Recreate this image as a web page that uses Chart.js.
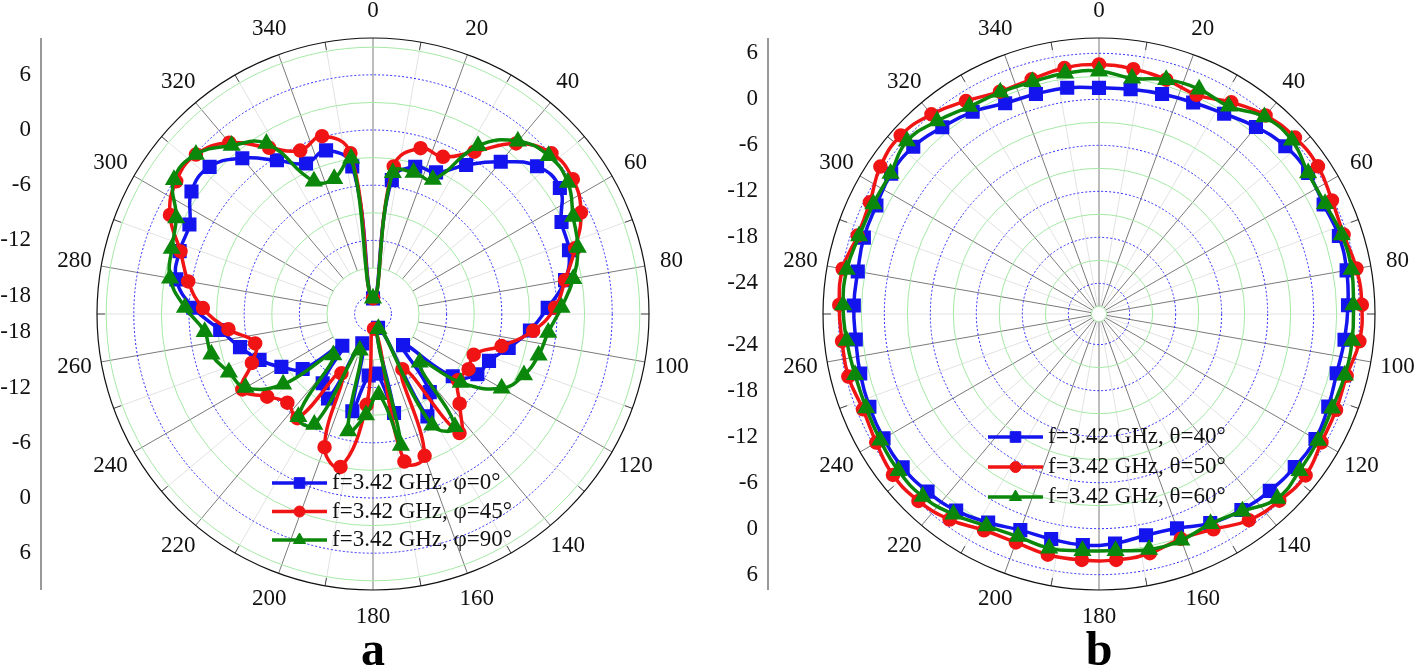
<!DOCTYPE html>
<html>
<head>
<meta charset="utf-8">
<title>Radiation patterns</title>
<script src="https://cdn.jsdelivr.net/npm/chart.js@4.4.1/dist/chart.umd.min.js"></script>
<style>
  html, body { margin: 0; padding: 0; background: #fff; }
  #wrap { position: relative; width: 1416px; height: 669px; overflow: hidden; }
  canvas { position: absolute; top: 0; }
</style>
</head>
<body>
<div id="wrap">
  <canvas id="chartA" width="708" height="669" style="left:0"></canvas>
  <canvas id="chartB" width="708" height="669" style="left:708px"></canvas>
</div>
<script>
// angles of the measured points (deg), one every 8 degrees
const angles = [0, 8, 16, 24, 32, 40, 48, 56, 64, 72, 80, 88, 96, 104, 112, 120, 128, 136, 144, 152, 160, 168, 176,
  184, 192, 200, 208, 216, 224, 232, 240, 248, 256, 264, 272, 280, 288, 296, 304, 312, 320, 328, 336, 344, 352];

// panel a: gain (dB) at f=3.42 GHz
const phi0 = [-18.3, -5.3, -3.35, -3.15, -0.9, 1.6, 4.0, 4.5, 2.8, 2.4, 1.2, -1.0, -2.85, -4.8, -6.4, -6.9, -9.0, -15.3, -9.5, -7.4, -18.4, -9.0, -13.5,
  -13.3, -9.2, -16.6, -9.6, -10.7, -15.2, -10.3, -8.5, -6.7, -5.1, -3.3, -0.45, 1.7, 2.1, 2.2, 3.8, 3.9, 2.1, -0.3, -2.1, -1.5, -3.8];
const phi45 = [-18.3, -3.8, -1.25, -1.3, 0.8, 4.2, 6.1, 6.2, 5.15, 3.1, 1.2, -0.2, -2.5, -5.6, -8.2, -8.0, -8.3, -6.45, -4.0, -13.2, -3.6, -3.6, -18.4,
  -10.1, -3.0, -4.6, -12.7, -6.0, -6.6, -5.4, -3.6, -5.8, -6.8, -4.2, -1.5, 0.4, 2.0, 4.55, 5.8, 5.9, 4.3, 1.3, -0.55, 0.1, -2.35];
const phi90 = [-18.3, -4.5, -4.0, -4.0, 1.55, 4.5, 5.7, 5.55, 4.2, 3.4, 2.1, 0.5, -0.85, -1.45, -2.3, -3.85, -7.9, -12.7, -4.85, -6.3, -18.3, -5.4, -11.2,
  -9.0, -7.0, -15.8, -6.4, -6.2, -13.8, -7.6, -4.0, -3.1, -1.9, -1.6, 0.45, 2.4, 3.0, 3.8, 6.1, 5.9, 3.9, 1.85, -4.2, -4.7, -2.9];

// panel b: gain (dB) at f=3.42 GHz
const theta40 = [1.5, 1.6, 1.85, 2.2, 2.8, 3.85, 4.7, 4.9, 4.6, 4.9, 4.8, 4.5, 4.2, 3.95, 4.25, 4.6, 4.4, 4.07, 3.6, 2.9, 1.75, 1.5, 2.0,
  2.2, 2.0, 2.0, 2.8, 3.7, 4.2, 4.5, 4.45, 4.3, 4.1, 3.9, 4.0, 3.95, 4.25, 4.3, 4.7, 4.6, 3.8, 3.1, 2.1, 1.85, 1.8];
const theta50 = [4.55, 4.25, 3.8, 3.3, 4.55, 5.8, 6.4, 6.45, 5.8, 5.55, 6.1, 6.3, 6.15, 5.3, 5.35, 5.5, 6.2, 5.85, 5.25, 3.8, 3.2, 3.9, 4.15,
  4.15, 4.1, 3.7, 3.95, 5.15, 5.9, 6.1, 5.55, 5.2, 5.7, 5.7, 5.9, 5.95, 5.1, 5.25, 6.4, 6.8, 6.0, 4.75, 3.75, 3.85, 4.4];
const theta60 = [3.7, 3.05, 3.8, 4.1, 3.95, 5.55, 5.85, 4.9, 4.8, 5.3, 5.45, 5.2, 5.2, 5.05, 4.8, 5.0, 5.2, 5.45, 3.8, 3.0, 3.4, 3.4, 2.95,
  2.95, 3.25, 2.9, 3.3, 4.3, 5.1, 5.2, 4.95, 4.75, 4.8, 5.1, 5.4, 5.4, 4.9, 4.75, 4.8, 5.7, 4.85, 3.9, 3.65, 3.5, 3.7];

// grid and tick labels
const angleTicks = [0, 20, 40, 60, 80, 100, 120, 140, 160, 180, 200, 220, 240, 260, 280, 300, 320, 340];
const ringsA = [-18, -15, -12, -9, -6, -3, 0, 3, 6, 9];
const ringsB = [-27, -24, -21, -18, -15, -12, -9, -6, -3, 0, 3, 6];
const axisTicksA = [6, 0, -6, -12, -18];
const axisTicksB = [6, 0, -6, -12, -18, -24];

const BLUE = "#1414ee";
const RED = "#f01414";
const GREEN = "#0b870b";
const FONT = '"Liberation Serif", "Times New Roman", serif';

// draws rings, spokes, angle labels, the side dB axis, the legend and the panel letter
const polarFrame = {
  id: "polarFrame",
  beforeDatasetsDraw(chart, args, opts) {
    const s = chart.scales.r;
    const ctx = chart.ctx;
    const cx = s.xCenter, cy = s.yCenter, R = s.drawingArea;
    const rOf = (v) => s.getDistanceFromCenterForValue(v);
    const rad = (a) => (a * Math.PI) / 180;
    ctx.save();

    // spokes every 10 deg, darker every 20 deg
    const r0 = rOf(opts.spokeFrom);
    for (let a = 0; a < 360; a += 10) {
      const t = rad(a);
      ctx.strokeStyle = a % 20 === 0 ? "#7a7a7a" : "#e2e2e2";
      ctx.lineWidth = 1;
      ctx.beginPath();
      ctx.moveTo(cx + Math.sin(t) * r0, cy - Math.cos(t) * r0);
      ctx.lineTo(cx + Math.sin(t) * R, cy - Math.cos(t) * R);
      ctx.stroke();
      if (a % 20 !== 0) {
        ctx.strokeStyle = "#444";
        ctx.beginPath();
        ctx.moveTo(cx + Math.sin(t) * (R - 8), cy - Math.cos(t) * (R - 8));
        ctx.lineTo(cx + Math.sin(t) * R, cy - Math.cos(t) * R);
        ctx.stroke();
      }
    }

    // rings: blue dotted on multiples of 6, light green otherwise
    opts.rings.forEach((v) => {
      const blue = v % 6 === 0;
      ctx.strokeStyle = blue ? "#2a2aff" : "#a6e8a6";
      ctx.lineWidth = 1;
      ctx.setLineDash(blue ? [2, 2] : []);
      ctx.beginPath();
      ctx.arc(cx, cy, rOf(v), 0, Math.PI * 2);
      ctx.stroke();
    });
    ctx.setLineDash([]);

    // outer circle
    ctx.strokeStyle = "#111";
    ctx.lineWidth = 1.2;
    ctx.beginPath();
    ctx.arc(cx, cy, R, 0, Math.PI * 2);
    ctx.stroke();

    // angle labels
    ctx.fillStyle = "#111";
    ctx.font = "23px " + FONT;
    ctx.textAlign = "center";
    ctx.textBaseline = "middle";
    angleTicks.forEach((a) => {
      const t = rad(a);
      ctx.fillText(String(a), cx + Math.sin(t) * (R + 27), cy - Math.cos(t) * (R + 27));
    });

    // side dB axis, mirrored above and below the centre
    const ax = cx - opts.axisOffset;
    ctx.strokeStyle = "#333";
    ctx.lineWidth = 1;
    ctx.beginPath();
    ctx.moveTo(ax, cy - R);
    ctx.lineTo(ax, cy + R);
    ctx.stroke();
    ctx.textAlign = "right";
    opts.axisTicks.forEach((v) => {
      ctx.fillText(String(v), ax - 10, cy - rOf(v));
      ctx.fillText(String(v), ax - 10, cy + rOf(v));
    });
    ctx.restore();
  },
  afterDatasetsDraw(chart, args, opts) {
    const s = chart.scales.r;
    const ctx = chart.ctx;
    const cx = s.xCenter, cy = s.yCenter;
    ctx.save();
    chart.data.datasets.forEach((ds, i) => {
      const y = cy + opts.legendY + i * opts.legendGap;
      const x0 = cx + opts.legendX;
      ctx.strokeStyle = ds.borderColor;
      ctx.lineWidth = ds.borderWidth;
      ctx.beginPath();
      ctx.moveTo(x0, y);
      ctx.lineTo(x0 + 55, y);
      ctx.stroke();
      ctx.fillStyle = ds.borderColor;
      ctx.lineWidth = 1;
      Chart.helpers.drawPoint(ctx, { pointStyle: ds.pointStyle, radius: ds.pointRadius, rotation: 0, borderWidth: 1 }, x0 + 27.5, y);
      ctx.fillStyle = "#111";
      ctx.font = "23px " + FONT;
      ctx.textAlign = "left";
      ctx.textBaseline = "middle";
      ctx.fillText(ds.label, x0 + 60, y);
    });
    ctx.fillStyle = "#000";
    ctx.font = "bold 48px " + FONT;
    ctx.textAlign = "center";
    ctx.textBaseline = "alphabetic";
    ctx.fillText(opts.letter, cx, 665);
    ctx.restore();
  },
};

function series(label, data, color, style, radius, order) {
  return {
    label: label,
    data: data,
    borderColor: color,
    backgroundColor: color,
    pointBackgroundColor: color,
    pointBorderColor: color,
    borderWidth: 3.5,
    pointStyle: style,
    pointRadius: radius,
    pointHoverRadius: radius,
    fill: false,
    tension: 0.45,
    order: order,
  };
}

function polarOptions(min, max, padding, frame) {
  return {
    responsive: false,
    animation: false,
    devicePixelRatio: 1,
    layout: { padding: padding },
    elements: { line: { tension: 0.45, capBezierPoints: false } },
    scales: {
      r: {
        min: min,
        max: max,
        startAngle: 0,
        grid: { display: false },
        angleLines: { display: false },
        ticks: { display: false },
        pointLabels: { display: false },
      },
    },
    plugins: {
      legend: { display: false },
      tooltip: { enabled: false },
      polarFrame: frame,
    },
  };
}

new Chart(document.getElementById("chartA"), {
  type: "radar",
  data: {
    labels: angles,
    datasets: [
      series("f=3.42 GHz, φ=0°", phi0, BLUE, "rect", 7.5, 3),
      series("f=3.42 GHz, φ=45°", phi45, RED, "circle", 5.5, 2),
      series("f=3.42 GHz, φ=90°", phi90, GREEN, "triangle", 7, 1),
    ],
  },
  options: polarOptions(-20, 10, { left: 97, right: 59, top: 38, bottom: 79 }, {
    spokeFrom: -15,
    rings: ringsA,
    axisTicks: axisTicksA,
    axisOffset: 332,
    legendX: -101,
    legendY: 169,
    legendGap: 28.5,
    letter: "a",
  }),
  plugins: [polarFrame],
});

new Chart(document.getElementById("chartB"), {
  type: "radar",
  data: {
    labels: angles,
    datasets: [
      series("f=3.42 GHz, θ=40°", theta40, BLUE, "rect", 7.5, 3),
      series("f=3.42 GHz, θ=50°", theta50, RED, "circle", 5.5, 2),
      series("f=3.42 GHz, θ=60°", theta60, GREEN, "triangle", 7, 1),
    ],
  },
  options: polarOptions(-28, 8, { left: 115, right: 41, top: 38, bottom: 79 }, {
    spokeFrom: -27,
    rings: ringsB,
    axisTicks: axisTicksB,
    axisOffset: 331,
    legendX: -111,
    legendY: 123,
    legendGap: 30,
    letter: "b",
  }),
  plugins: [polarFrame],
});
</script>
</body>
</html>
